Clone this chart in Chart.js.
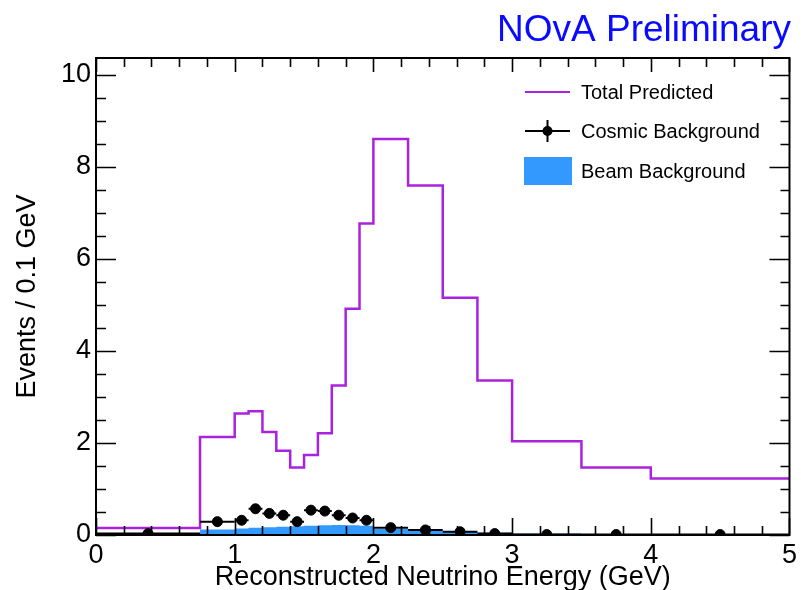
<!DOCTYPE html>
<html>
<head>
<meta charset="utf-8">
<script src="https://cdn.jsdelivr.net/npm/chart.js@4.4.1/dist/chart.umd.min.js"></script>
<style>
  html, body { margin: 0; padding: 0; background: #fff; }
  #wrap { width: 801px; height: 590px; }
</style>
</head>
<body>
<div id="wrap"><canvas id="energyChart" width="801" height="590"></canvas></div>
<script>
// ---- histogram data ----
// bin edges in GeV (variable width)
const binEdges = [0, 0.75, 1.0, 1.1, 1.2, 1.3, 1.4, 1.5, 1.6, 1.7, 1.8, 1.9, 2.0, 2.25, 2.5, 2.75, 3.0, 3.5, 4.0, 5.0];
// events / 0.1 GeV per bin
const totalPredicted = [0.15, 2.13, 2.64, 2.69, 2.24, 1.83, 1.47, 1.74, 2.21, 3.25, 4.92, 6.77, 8.61, 7.60, 5.16, 3.36, 2.04, 1.47, 1.23];
const beamBackground = [0, 0.12, 0.14, 0.16, 0.17, 0.18, 0.19, 0.20, 0.21, 0.22, 0.21, 0.20, 0.13, 0.09, 0.07, 0.05, 0.03, 0.02, 0.02];
const cosmicBackground = [0.03, 0.29, 0.32, 0.57, 0.47, 0.43, 0.29, 0.54, 0.52, 0.43, 0.37, 0.32, 0.16, 0.11, 0.07, 0.03, 0.01, 0.01, 0.01];
const cosmicError = [0.02, 0.04, 0.05, 0.06, 0.05, 0.05, 0.04, 0.05, 0.05, 0.05, 0.04, 0.04, 0.03, 0.02, 0.02, 0.01, 0.01, 0.01, 0.01];

const xTicks = [0, 1, 2, 3, 4, 5];
const yTicks = [0, 2, 4, 6, 8, 10];

const PURPLE = "#a922dd";
const BLUE = "#3399ff";
const FONT = "'Liberation Sans', Arial, Helvetica, sans-serif";

// one point per bin edge; with stepped "after" the segment ending at
// edge i takes that point's y, so edge i carries the value of bin i-1
function toSteps(values) {
  return binEdges.map((x, i) => ({ x: x, y: values[Math.max(i - 1, 0)] }));
}

const cosmicPoints = cosmicBackground.map((v, i) => ({
  x: (binEdges[i] + binEdges[i + 1]) / 2,
  y: v,
  xlo: binEdges[i],
  xhi: binEdges[i + 1],
  err: cosmicError[i]
}));

// error bars for the cosmic points, drawn just before the markers
const errorBars = {
  id: "errorBars",
  beforeDatasetDraw(chart, args) {
    if (args.index !== 2) return;
    const { ctx, scales: { x, y } } = chart;
    ctx.save();
    ctx.strokeStyle = "#000";
    ctx.lineWidth = 2;
    cosmicPoints.forEach(p => {
      const py = y.getPixelForValue(p.y);
      const px = x.getPixelForValue(p.x);
      ctx.beginPath();
      ctx.moveTo(x.getPixelForValue(p.xlo), py);
      ctx.lineTo(x.getPixelForValue(p.xhi), py);
      ctx.moveTo(px, y.getPixelForValue(p.y - p.err));
      ctx.lineTo(px, y.getPixelForValue(p.y + p.err));
      ctx.stroke();
    });
    ctx.restore();
  }
};

// ROOT-like frame: box, inward ticks on all sides, legend and label
const rootFrame = {
  id: "rootFrame",
  afterDraw(chart) {
    const { ctx, chartArea: a, scales: { x, y } } = chart;
    ctx.save();
    ctx.strokeStyle = "#000";
    ctx.lineWidth = 2;
    ctx.strokeRect(a.left, a.top, a.right - a.left, a.bottom - a.top);

    ctx.lineWidth = 1.6;
    ctx.beginPath();
    // x ticks every 0.2, major at integers
    for (let v = 0; v <= 5.0001; v += 0.2) {
      const px = Math.round(x.getPixelForValue(v)) + 0.5;
      const major = Math.abs(v - Math.round(v)) < 1e-6;
      const lb = major ? 17 : 9;
      const lt = major ? 14 : 9;
      ctx.moveTo(px, a.bottom); ctx.lineTo(px, a.bottom - lb);
      ctx.moveTo(px, a.top); ctx.lineTo(px, a.top + lt);
    }
    // y ticks every 0.5, major every 2
    for (let v = 0; v <= y.max; v += 0.5) {
      const py = Math.round(y.getPixelForValue(v)) + 0.5;
      const major = Math.abs(v / 2 - Math.round(v / 2)) < 1e-6;
      const ll = major ? 20 : 10;
      const lr = major ? 20 : 9;
      ctx.moveTo(a.left, py); ctx.lineTo(a.left + ll, py);
      ctx.moveTo(a.right, py); ctx.lineTo(a.right - lr, py);
    }
    ctx.stroke();

    // legend
    ctx.font = "20px " + FONT;
    ctx.textBaseline = "middle";
    ctx.textAlign = "left";
    ctx.fillStyle = "#000";
    ctx.strokeStyle = PURPLE;
    ctx.lineWidth = 2;
    ctx.beginPath(); ctx.moveTo(525, 92); ctx.lineTo(570, 92); ctx.stroke();
    ctx.fillText("Total Predicted", 581, 93);

    ctx.strokeStyle = "#000";
    ctx.beginPath();
    ctx.moveTo(525, 131); ctx.lineTo(570, 131);
    ctx.moveTo(547.5, 120); ctx.lineTo(547.5, 142);
    ctx.stroke();
    ctx.beginPath(); ctx.arc(547.5, 131, 5, 0, Math.PI * 2); ctx.fill();
    ctx.fillText("Cosmic Background", 581, 132);

    ctx.fillStyle = BLUE;
    ctx.fillRect(524, 157, 48, 28);
    ctx.fillStyle = "#000";
    ctx.fillText("Beam Background", 581, 172);

    // experiment label
    ctx.font = "37px " + FONT;
    ctx.fillStyle = "#0a0aff";
    ctx.textAlign = "right";
    ctx.textBaseline = "alphabetic";
    ctx.fillText("NOvA Preliminary", 791, 41);
    ctx.restore();
  }
};

new Chart(document.getElementById("energyChart"), {
  data: {
    datasets: [
      {
        type: "line",
        label: "Beam Background",
        data: toSteps(beamBackground),
        stepped: "after",
        fill: "origin",
        backgroundColor: BLUE,
        borderWidth: 0,
        pointRadius: 0,
        order: 3
      },
      {
        type: "line",
        label: "Total Predicted",
        data: toSteps(totalPredicted),
        stepped: "after",
        fill: false,
        borderColor: PURPLE,
        borderWidth: 2.5,
        pointRadius: 0,
        order: 2
      },
      {
        type: "scatter",
        label: "Cosmic Background",
        data: cosmicPoints,
        backgroundColor: "#000",
        borderColor: "#000",
        pointRadius: 5,
        pointHoverRadius: 5,
        order: 1
      }
    ]
  },
  options: {
    responsive: false,
    animation: false,
    events: [],
    layout: { padding: { top: 58, right: 8, left: 0, bottom: 0 } },
    plugins: {
      legend: { display: false },
      tooltip: { enabled: false },
      title: { display: false }
    },
    scales: {
      x: {
        type: "linear",
        min: 0,
        max: 5,
        afterFit: s => { s.height = 55; },
        afterBuildTicks: s => { s.ticks = xTicks.map(v => ({ value: v })); },
        grid: { display: false, drawTicks: false },
        border: { display: false },
        ticks: { color: "#000", font: { family: FONT, size: 27 }, padding: 4 },
        title: {
          display: true,
          text: "Reconstructed Neutrino Energy (GeV)",
          color: "#000",
          font: { family: FONT, size: 27 },
          padding: { top: 0, bottom: -4 }
        }
      },
      y: {
        type: "linear",
        min: 0,
        max: 10.37,
        afterFit: s => { s.width = 96; },
        afterBuildTicks: s => { s.ticks = yTicks.map(v => ({ value: v })); },
        grid: { display: false, drawTicks: false },
        border: { display: false },
        ticks: { color: "#000", font: { family: FONT, size: 27 }, padding: 5 },
        title: {
          display: true,
          text: "Events / 0.1 GeV",
          color: "#000",
          font: { family: FONT, size: 27 },
          padding: { top: 11, bottom: 0 }
        }
      }
    }
  },
  plugins: [errorBars, rootFrame]
});
</script>
</body>
</html>
